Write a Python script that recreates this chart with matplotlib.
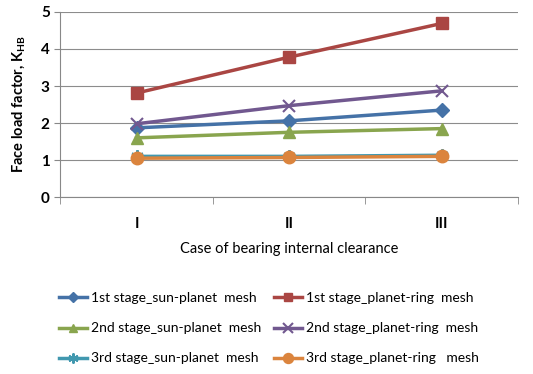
import matplotlib
matplotlib.use("Agg")
import matplotlib.pyplot as plt

plt.rcParams['font.family'] = ['Lato', 'DejaVu Sans']
plt.rcParams['mathtext.fontset'] = 'custom'
plt.rcParams['mathtext.bf'] = 'Lato:bold'
plt.rcParams['mathtext.rm'] = 'Lato:bold'
plt.rcParams['mathtext.default'] = 'bf'

cases = ['I', 'II', 'III']
s1_sun_planet = [1.87, 2.06, 2.35]
s1_planet_ring = [2.81, 3.78, 4.69]
s2_sun_planet = [1.60, 1.75, 1.85]
s2_planet_ring = [1.98, 2.47, 2.87]
s3_sun_planet = [1.10, 1.10, 1.13]
s3_planet_ring = [1.05, 1.07, 1.10]

series = [
    ('1st stage_sun-planet  mesh', s1_sun_planet, '#4572A7', 'D', 7),
    ('1st stage_planet-ring  mesh', s1_planet_ring, '#AA4643', 's', 8),
    ('2nd stage_sun-planet  mesh', s2_sun_planet, '#89A54E', '^', 8),
    ('2nd stage_planet-ring  mesh', s2_planet_ring, '#71588F', 'x', 9),
    ('3rd stage_sun-planet  mesh', s3_sun_planet, '#4198AF', (6, 2, 0), 9),
    ('3rd stage_planet-ring   mesh', s3_planet_ring, '#DB843D', 'o', 9),
]

fig = plt.figure(figsize=(5.33, 3.74), dpi=100)
ax = fig.add_axes([0.113, 0.473, 0.859, 0.495])

x = [0, 1, 2]
lines = []
for label, vals, color, marker, ms in series:
    mew = 1.5 if marker in ('x', (6, 2, 0)) else 1
    ln, = ax.plot(x, vals, color=color, lw=2.5, marker=marker, markersize=ms,
                  markeredgewidth=mew, label=label)
    lines.append(ln)

ax.set_xlim(-0.5, 2.5)
ax.set_ylim(0, 5)
ax.set_yticks(range(6))
ax.set_xticks(x)
ax.set_xticklabels(cases, fontweight='bold')
ax.set_xticks([-0.5, 0.5, 1.5, 2.5], minor=True)
ax.tick_params(axis='x', which='major', length=0, pad=14, labelsize=11)
ax.tick_params(axis='x', which='minor', length=5, color='#888888')
ax.tick_params(axis='y', length=4, color='#888888', labelsize=11)
for t in ax.get_yticklabels():
    t.set_fontweight('bold')

ax.yaxis.grid(True, color='#8c8c8c', lw=0.8)
ax.set_axisbelow(True)
for side in ('top', 'right'):
    ax.spines[side].set_visible(False)
ax.spines['left'].set_color('#888888')
ax.spines['bottom'].set_color('#888888')

ax.set_ylabel(r'Face load factor, K$_{\mathbf{HB}}$', fontweight='bold',
              fontsize=10.5, labelpad=10)
ax.set_xlabel('Case of bearing internal clearance', fontsize=10.5, labelpad=8)

# row-wise order for a 2-column legend
order = [0, 2, 4, 1, 3, 5]
fig.legend([lines[i] for i in order], [series[i][0] for i in order],
           loc='center', bbox_to_anchor=(0.505, 0.122), ncol=2, frameon=False,
           fontsize=10, handlelength=2.0, columnspacing=0.9, labelspacing=1.3,
           handletextpad=0.3, markerscale=0.8)

fig.savefig('out.png', dpi=100)
